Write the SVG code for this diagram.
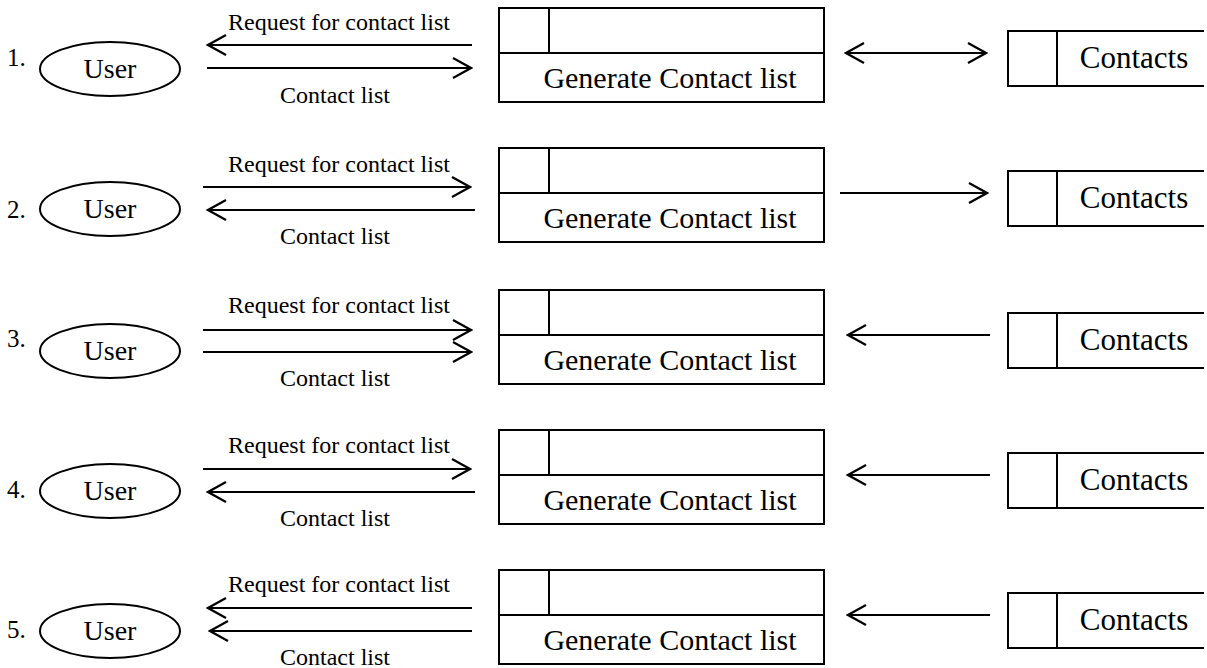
<svg xmlns="http://www.w3.org/2000/svg" width="1207" height="668" viewBox="0 0 1207 668">
<style>
.t{font-family:"Liberation Serif","Times New Roman",serif;fill:#000}
.big{font-size:28px}
.gen{font-size:30px}
.con{font-size:31px}
.sm{font-size:24px}
.num{font-size:25px}
.sh{fill:#fff;stroke:#000;stroke-width:2}
.ln{stroke:#000;stroke-width:2;fill:none}
.ar{stroke:#000;stroke-width:2.2;fill:none}
</style>
<defs>
<marker id="ah" markerUnits="userSpaceOnUse" markerWidth="22" markerHeight="24" viewBox="0 0 22 24" refX="20" refY="12" orient="auto-start-reverse">
<path d="M2,2 L20,12 L2,22" fill="none" stroke="#000" stroke-width="2.2"/>
</marker>
</defs>
<rect width="1207" height="668" fill="#fff"/>

<g id="row1">
<g id="user1"><ellipse class="sh" cx="110" cy="69" rx="70" ry="27"/><text class="t big" x="110" y="78" text-anchor="middle">User</text></g>
<text class="t num" x="7" y="66">1.</text>
<g id="gen1"><rect class="sh" x="499" y="8" width="325" height="94"/><line class="ln" x1="499" y1="53" x2="824" y2="53"/><line class="ln" x1="549" y1="8" x2="549" y2="53"/><text class="t gen" x="670" y="88" text-anchor="middle">Generate Contact list</text></g>
<g id="contacts1"><path class="ln" d="M1204,31 H1008 V86 H1204 M1057,31 V86"/><text class="t con" x="1134" y="68" text-anchor="middle">Contacts</text></g>
</g>

<g id="row2">
<g id="user2"><ellipse class="sh" cx="110" cy="209" rx="70" ry="27"/><text class="t big" x="110" y="218" text-anchor="middle">User</text></g>
<text class="t num" x="7" y="218">2.</text>
<g id="gen2"><rect class="sh" x="499" y="148" width="325" height="94"/><line class="ln" x1="499" y1="193" x2="824" y2="193"/><line class="ln" x1="549" y1="148" x2="549" y2="193"/><text class="t gen" x="670" y="228" text-anchor="middle">Generate Contact list</text></g>
<g id="contacts2"><path class="ln" d="M1204,171 H1008 V226 H1204 M1057,171 V226"/><text class="t con" x="1134" y="208" text-anchor="middle">Contacts</text></g>
</g>

<g id="row3">
<g id="user3"><ellipse class="sh" cx="110" cy="351" rx="70" ry="27"/><text class="t big" x="110" y="360" text-anchor="middle">User</text></g>
<text class="t num" x="7" y="347">3.</text>
<g id="gen3"><rect class="sh" x="499" y="290" width="325" height="94"/><line class="ln" x1="499" y1="335" x2="824" y2="335"/><line class="ln" x1="549" y1="290" x2="549" y2="335"/><text class="t gen" x="670" y="370" text-anchor="middle">Generate Contact list</text></g>
<g id="contacts3"><path class="ln" d="M1204,313 H1008 V368 H1204 M1057,313 V368"/><text class="t con" x="1134" y="350" text-anchor="middle">Contacts</text></g>
</g>

<g id="row4">
<g id="user4"><ellipse class="sh" cx="110" cy="491" rx="70" ry="27"/><text class="t big" x="110" y="500" text-anchor="middle">User</text></g>
<text class="t num" x="7" y="498">4.</text>
<g id="gen4"><rect class="sh" x="499" y="430" width="325" height="94"/><line class="ln" x1="499" y1="475" x2="824" y2="475"/><line class="ln" x1="549" y1="430" x2="549" y2="475"/><text class="t gen" x="670" y="510" text-anchor="middle">Generate Contact list</text></g>
<g id="contacts4"><path class="ln" d="M1204,453 H1008 V508 H1204 M1057,453 V508"/><text class="t con" x="1134" y="490" text-anchor="middle">Contacts</text></g>
</g>

<g id="row5">
<g id="user5"><ellipse class="sh" cx="110" cy="631" rx="70" ry="27"/><text class="t big" x="110" y="640" text-anchor="middle">User</text></g>
<text class="t num" x="7" y="638">5.</text>
<g id="gen5"><rect class="sh" x="499" y="570" width="325" height="94"/><line class="ln" x1="499" y1="615" x2="824" y2="615"/><line class="ln" x1="549" y1="570" x2="549" y2="615"/><text class="t gen" x="670" y="650" text-anchor="middle">Generate Contact list</text></g>
<g id="contacts5"><path class="ln" d="M1204,593 H1008 V648 H1204 M1057,593 V648"/><text class="t con" x="1134" y="630" text-anchor="middle">Contacts</text></g>
</g>

<g id="connectors">
<line class="ar" x1="472" y1="45" x2="208" y2="45" marker-end="url(#ah)"/>
<line class="ar" x1="207" y1="68" x2="471" y2="68" marker-end="url(#ah)"/>
<line class="ar" x1="846" y1="53" x2="986" y2="53" marker-start="url(#ah)" marker-end="url(#ah)"/>

<line class="ar" x1="203" y1="187" x2="470" y2="187" marker-end="url(#ah)"/>
<line class="ar" x1="475" y1="210" x2="208" y2="210" marker-end="url(#ah)"/>
<line class="ar" x1="840" y1="193" x2="987" y2="193" marker-end="url(#ah)"/>

<line class="ar" x1="203" y1="330" x2="471" y2="330" marker-end="url(#ah)"/>
<line class="ar" x1="203" y1="352" x2="471" y2="352" marker-end="url(#ah)"/>
<line class="ar" x1="990" y1="335" x2="848" y2="335" marker-end="url(#ah)"/>

<line class="ar" x1="203" y1="469" x2="470" y2="469" marker-end="url(#ah)"/>
<line class="ar" x1="475" y1="492" x2="208" y2="492" marker-end="url(#ah)"/>
<line class="ar" x1="990" y1="475" x2="848" y2="475" marker-end="url(#ah)"/>

<line class="ar" x1="472" y1="608" x2="208" y2="608" marker-end="url(#ah)"/>
<line class="ar" x1="472" y1="631" x2="210" y2="631" marker-end="url(#ah)"/>
<line class="ar" x1="990" y1="615" x2="848" y2="615" marker-end="url(#ah)"/>
</g>

<g id="labels">
<text class="t sm" x="339" y="30" text-anchor="middle">Request for contact list</text>
<text class="t sm" x="335" y="103" text-anchor="middle">Contact list</text>
<text class="t sm" x="339" y="172" text-anchor="middle">Request for contact list</text>
<text class="t sm" x="335" y="244" text-anchor="middle">Contact list</text>
<text class="t sm" x="339" y="313" text-anchor="middle">Request for contact list</text>
<text class="t sm" x="335" y="386" text-anchor="middle">Contact list</text>
<text class="t sm" x="339" y="453" text-anchor="middle">Request for contact list</text>
<text class="t sm" x="335" y="526" text-anchor="middle">Contact list</text>
<text class="t sm" x="339" y="592" text-anchor="middle">Request for contact list</text>
<text class="t sm" x="335" y="665" text-anchor="middle">Contact list</text>
</g>
</svg>
